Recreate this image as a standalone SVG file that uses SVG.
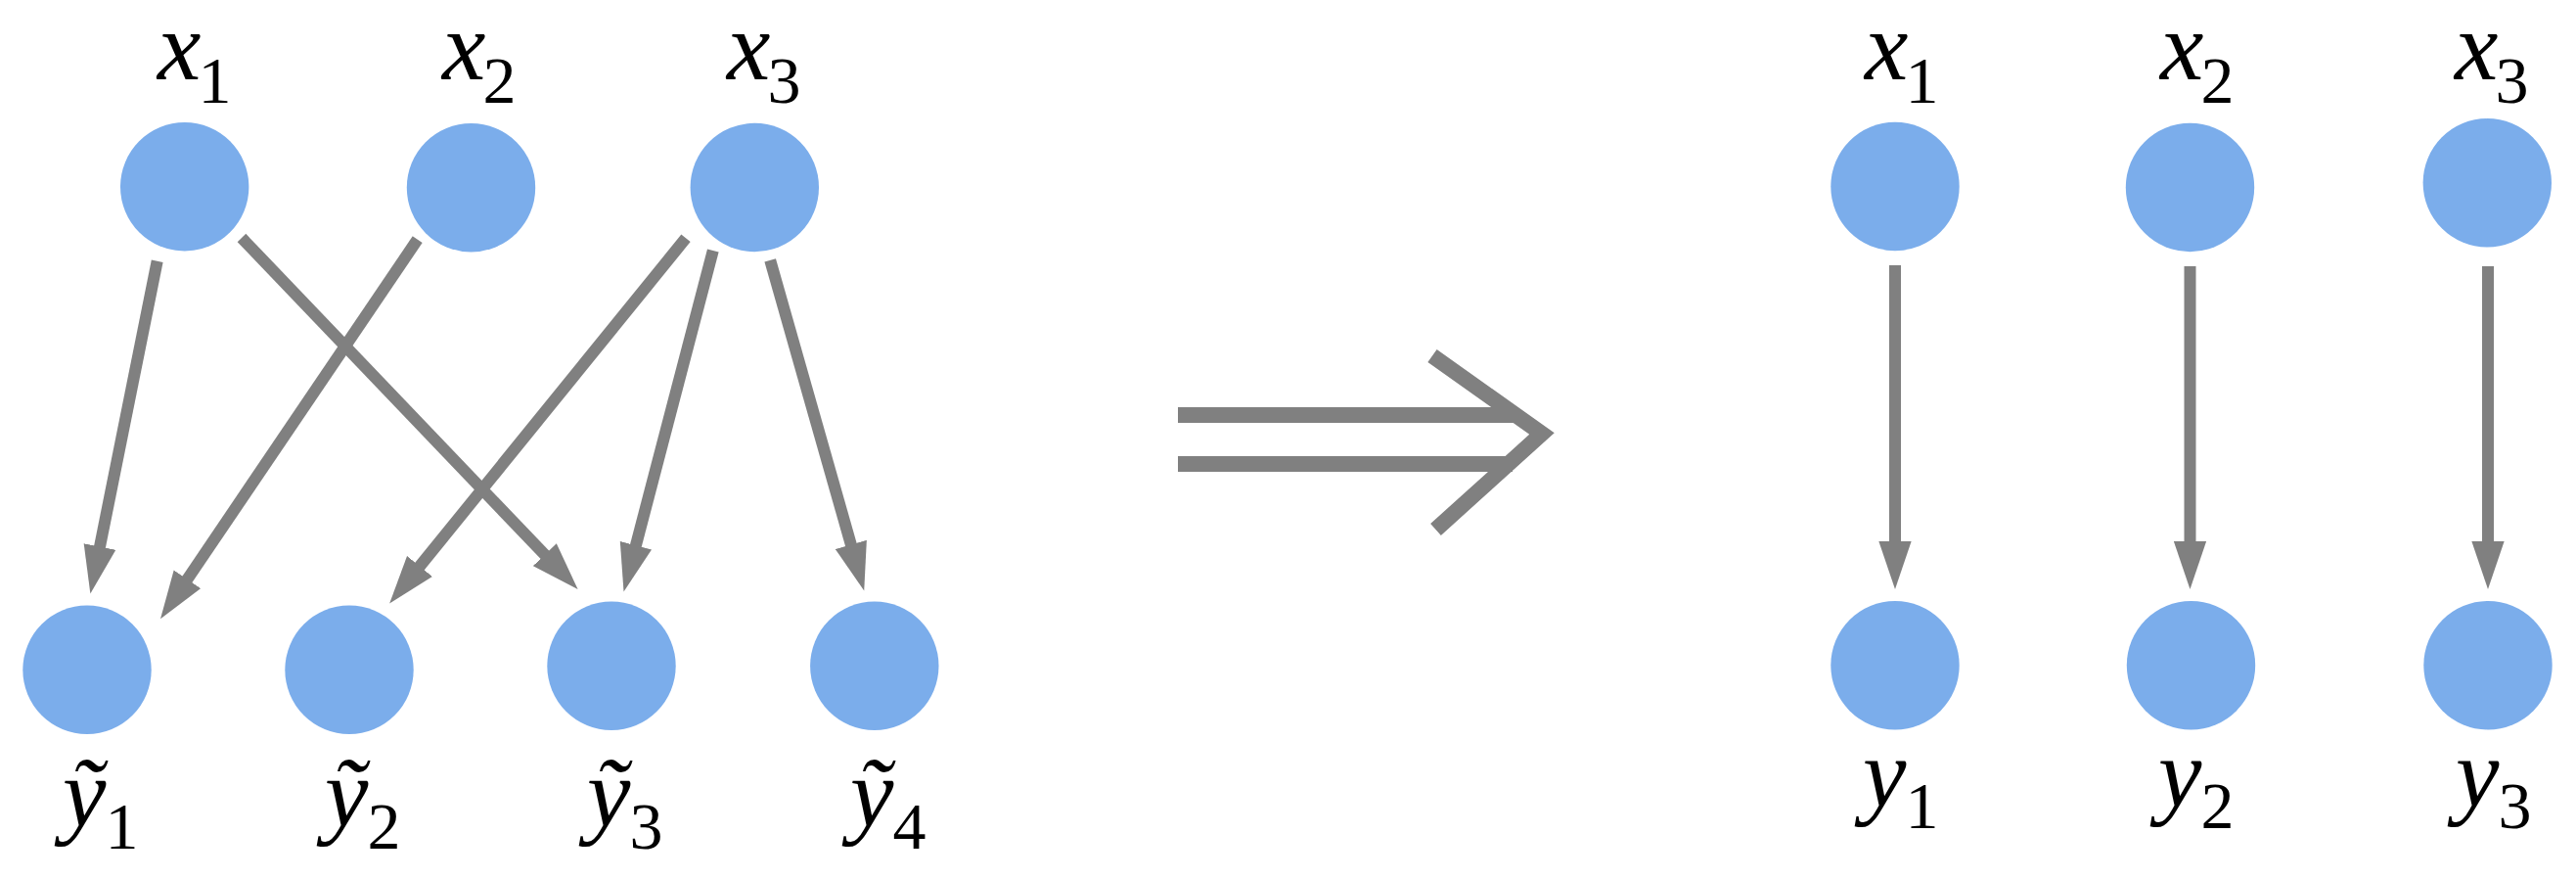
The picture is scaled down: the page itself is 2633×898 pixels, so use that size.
<svg xmlns="http://www.w3.org/2000/svg" width="2633" height="898" viewBox="0 0 2633 898">
<style>
.node{fill:#7BADEB}
.edge{stroke:#808080;stroke-width:12;fill:none}
.big{stroke:#808080;stroke-width:16;fill:none}
.lbl{font-family:"Liberation Serif","Times New Roman",serif;font-style:italic;font-size:100px;fill:#000}
.sub{font-style:normal;font-size:68px}
</style>
<defs>
<marker id="ah" markerUnits="userSpaceOnUse" markerWidth="50" markerHeight="34" viewBox="0 0 48 32" refX="2" refY="16" orient="auto">
<path d="M0,0 L47,16 L0,32 z" fill="#808080"/>
</marker>
</defs>
<g id="connectors">
<line class="edge" x1="160.7" y1="266.7" x2="101.6" y2="560.6" marker-end="url(#ah)"/>
<line class="edge" x1="247" y1="243" x2="558.2" y2="568.2" marker-end="url(#ah)"/>
<line class="edge" x1="426.7" y1="244.7" x2="190.3" y2="593.5" marker-end="url(#ah)"/>
<line class="edge" x1="701" y1="243.3" x2="427.7" y2="580.1" marker-end="url(#ah)"/>
<line class="edge" x1="728.8" y1="256" x2="649.4" y2="559.2" marker-end="url(#ah)"/>
<line class="edge" x1="787.2" y1="265.8" x2="870.4" y2="558.4" marker-end="url(#ah)"/>
<line class="edge" x1="1937" y1="271" x2="1937" y2="555" marker-end="url(#ah)"/>
<line class="edge" x1="2238.5" y1="272" x2="2238.5" y2="555" marker-end="url(#ah)"/>
<line class="edge" x1="2543" y1="272" x2="2543" y2="555" marker-end="url(#ah)"/>
</g>
<g id="implies">
<line class="big" x1="1204" y1="424" x2="1552" y2="424"/>
<line class="big" x1="1204" y1="474" x2="1546" y2="474"/>
<polyline class="big" points="1464,363.5 1576,443 1467.5,541" stroke-linejoin="miter"/>
</g>
<g id="L_x1"><circle class="node" cx="188.7" cy="190.8" r="65.7"/><text class="lbl" x="161" y="81">x<tspan class="sub" dx="-3" dy="24">1</tspan></text></g>
<g id="L_x2"><circle class="node" cx="481.5" cy="191.7" r="65.7"/><text class="lbl" x="452" y="81">x<tspan class="sub" dx="-3" dy="24">2</tspan></text></g>
<g id="L_x3"><circle class="node" cx="771.3" cy="191.5" r="65.7"/><text class="lbl" x="743" y="81">x<tspan class="sub" dx="-3" dy="24">3</tspan></text></g>
<g id="L_y1"><circle class="node" cx="89" cy="684.3" r="65.7"/><text class="lbl" x="64" y="843.7">ỹ<tspan class="sub" dx="-1" dy="23">1</tspan></text></g>
<g id="L_y2"><circle class="node" cx="357" cy="684.3" r="65.7"/><text class="lbl" x="332" y="843.7">ỹ<tspan class="sub" dx="-1" dy="23">2</tspan></text></g>
<g id="L_y3"><circle class="node" cx="625" cy="680.3" r="65.7"/><text class="lbl" x="600" y="843.7">ỹ<tspan class="sub" dx="-1" dy="23">3</tspan></text></g>
<g id="L_y4"><circle class="node" cx="893.8" cy="680.3" r="65.7"/><text class="lbl" x="869" y="843.7">ỹ<tspan class="sub" dx="-1" dy="23">4</tspan></text></g>
<g id="R_x1"><circle class="node" cx="1937" cy="190.5" r="65.7"/><text class="lbl" x="1906" y="81">x<tspan class="sub" dx="-3" dy="24">1</tspan></text></g>
<g id="R_x2"><circle class="node" cx="2238.5" cy="191.5" r="65.7"/><text class="lbl" x="2208" y="81">x<tspan class="sub" dx="-3" dy="24">2</tspan></text></g>
<g id="R_x3"><circle class="node" cx="2542.3" cy="186.8" r="65.7"/><text class="lbl" x="2509" y="81">x<tspan class="sub" dx="-3" dy="24">3</tspan></text></g>
<g id="R_y1"><circle class="node" cx="1937" cy="679.7" r="65.7"/><text class="lbl" x="1904" y="823.7">y<tspan class="sub" dx="-1" dy="22">1</tspan></text></g>
<g id="R_y2"><circle class="node" cx="2239.5" cy="679.7" r="65.7"/><text class="lbl" x="2206" y="823.7">y<tspan class="sub" dx="-1" dy="22">2</tspan></text></g>
<g id="R_y3"><circle class="node" cx="2543" cy="679.7" r="65.7"/><text class="lbl" x="2510" y="823.7">y<tspan class="sub" dx="-1" dy="22">3</tspan></text></g>
</svg>
